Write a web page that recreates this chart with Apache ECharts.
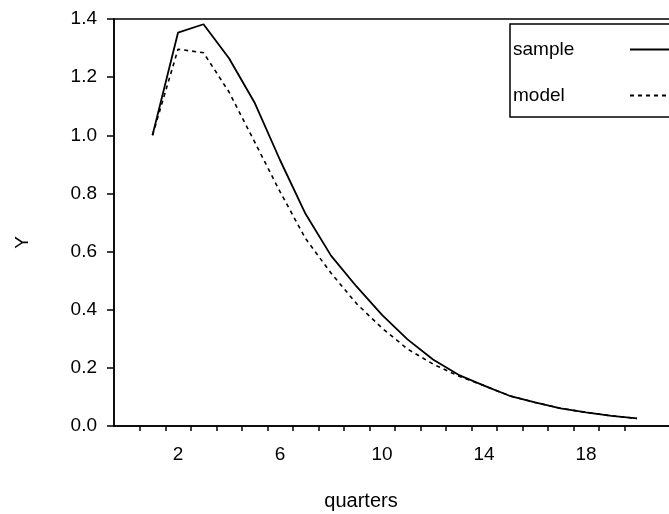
<!DOCTYPE html>
<html>
<head>
<meta charset="utf-8">
<script src="https://cdn.jsdelivr.net/npm/echarts@6/dist/echarts.min.js"></script>
<style>
html,body{margin:0;padding:0;background:#fff;}
#chart{width:669px;height:514px;}
</style>
</head>
<body>
<div id="chart"></div>
<script>
const quarters = [1,2,3,4,5,6,7,8,9,10,11,12,13,14,15,16,17,18,19,20];
const sampleY = [1.0,1.353,1.382,1.265,1.113,0.915,0.730,0.586,0.480,0.382,0.298,0.229,0.176,0.139,0.104,0.081,0.061,0.047,0.035,0.026];
const modelY  = [1.0,1.296,1.284,1.149,0.978,0.806,0.645,0.526,0.421,0.337,0.265,0.213,0.172,0.139,0.104,0.081,0.061,0.047,0.035,0.026];
const xTickLabels = [2,6,10,14,18];
const seriesNames = ['sample','model'];

const FONT = "'Liberation Sans', Arial, sans-serif";
const chart = echarts.init(document.getElementById('chart'), null, {renderer:'canvas'});
const toPairs = ys => quarters.map((q,i)=>[q, ys[i]]);

chart.setOption({
  animation:false,
  backgroundColor:'#fff',
  textStyle:{fontFamily:FONT,color:'#000'},
  grid:[
    {left:114, top:19, right:-20, bottom:88, outerBoundsMode:'none', containLabel:false,
     show:true, borderColor:'#000', borderWidth:1.5, backgroundColor:'transparent'},
    {left:127, top:19, right:32, bottom:88, outerBoundsMode:'none', containLabel:false}
  ],
  xAxis:[
    {gridIndex:0, type:'value', min:0, max:1, axisLine:{show:true,lineStyle:{color:'#000',width:1.5}},
     axisTick:{show:false}, axisLabel:{show:false}, splitLine:{show:false}},
    {gridIndex:1, type:'value', min:0, max:20, interval:1,
     axisLine:{show:false}, axisTick:{show:false},
     minorTick:{show:true, splitNumber:2, length:5, lineStyle:{color:'#000',width:1.5}},
     splitLine:{show:false}, minorSplitLine:{show:false},
     axisLabel:{margin:19, fontSize:19, color:'#000', fontFamily:FONT,
       formatter:v=> xTickLabels.indexOf(v)>=0 ? String(v) : ''},
     name:'quarters', nameLocation:'middle', nameGap:65,
     nameTextStyle:{fontSize:20,color:'#000',fontFamily:FONT,padding:[0,42,0,0]}}
  ],
  yAxis:[
    {gridIndex:0, type:'value', min:0, max:1.4, interval:0.2,
     axisLine:{show:true,lineStyle:{color:'#000',width:1.5}},
     axisTick:{show:true,length:7,lineStyle:{color:'#000',width:1.5}},
     splitLine:{show:false},
     axisLabel:{margin:17,fontSize:19,color:'#000',fontFamily:FONT,formatter:v=>v.toFixed(1)},
     name:'Y', nameLocation:'middle', nameRotate:90, nameGap:82,
     nameTextStyle:{fontSize:19,color:'#000',fontFamily:FONT,padding:[0,40,0,0]}},
    {gridIndex:1, type:'value', min:0, max:1.4, show:false}
  ],
  legend:{
    orient:'vertical', left:510, top:24, align:'right',
    backgroundColor:'#fff', borderColor:'#000', borderWidth:1.5,
    padding:[16,0,12,3], itemGap:27, itemWidth:60, itemHeight:14,
    data:seriesNames,
    itemStyle:{color:'transparent', borderColor:'transparent', borderWidth:0},
    formatter:n=>'{t|'+n+'}',
    textStyle:{fontFamily:FONT,fontSize:19,color:'#000',
      rich:{t:{width:112,align:'left',lineHeight:20,fontSize:19,fontFamily:FONT,color:'#000'}}}
  },
  series:[
    {name:seriesNames[0], type:'line', xAxisIndex:1, yAxisIndex:1, data:toPairs(sampleY),
     symbol:'none', lineStyle:{color:'#000',width:1.8,type:'solid'}, itemStyle:{color:'#000'}},
    {name:seriesNames[1], type:'line', xAxisIndex:1, yAxisIndex:1, data:toPairs(modelY),
     symbol:'none', lineStyle:{color:'#000',width:1.6,type:[4,4]}, itemStyle:{color:'#000'}}
  ]
});
</script>
</body>
</html>
